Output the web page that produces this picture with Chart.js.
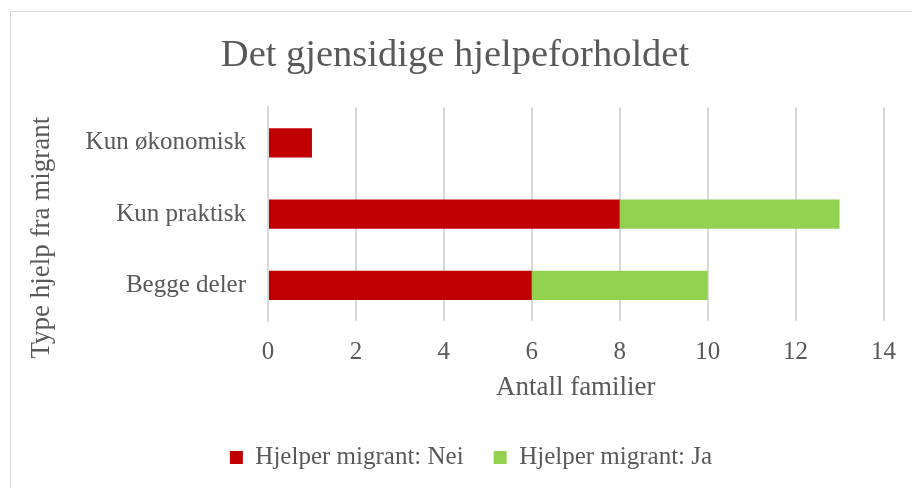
<!DOCTYPE html>
<html>
<head>
<meta charset="utf-8">
<script src="https://cdn.jsdelivr.net/npm/chart.js@4"></script>
<style>
  html, body { margin: 0; padding: 0; background: #fff; }
  #wrap { position: relative; width: 912px; height: 488px; overflow: hidden; }
  #frame { position: absolute; left: 10px; top: 11px; width: 1000px; height: 1000px; border: 1px solid #d9d9d9; box-sizing: border-box; }
  #chartBox { position: absolute; left: 0; top: 0; width: 912px; height: 488px; }
</style>
</head>
<body>
<div id="wrap">
  <div id="frame"></div>
  <div id="chartBox"><canvas id="chart"></canvas></div>
</div>
<script>
// data
const categories = ['Kun økonomisk', 'Kun praktisk', 'Begge deler'];
const seriesNei = [1, 8, 6];
const seriesJa = [0, 5, 4];
const xTicks = [0, 2, 4, 6, 8, 10, 12, 14];

const textColor = '#595959';
const gridColor = '#d9d9d9';
const serif = "'Liberation Serif', 'DejaVu Serif', serif";

// legenden står litt til høyre for midten i originalen
const legendShift = {
    id: 'legendShift',
    afterLayout(chart) {
        chart.legend.left += 16;
        chart.legend.right += 16;
    }
};

const ctx = document.getElementById('chart').getContext('2d');
new Chart(ctx, {
    type: 'bar',
    data: {
        labels: categories,
        datasets: [
            { label: 'Hjelper migrant: Nei', data: seriesNei, backgroundColor: '#C00000' },
            { label: 'Hjelper migrant: Ja', data: seriesJa, backgroundColor: '#92D050' }
        ]
    },
    plugins: [legendShift],
    options: {
        indexAxis: 'y',
        responsive: true,
        maintainAspectRatio: false,
        animation: false,
        barPercentage: 0.41,
        categoryPercentage: 1,
        layout: { padding: { left: 26, right: 28, top: 24, bottom: 8 } },
        plugins: {
            title: {
                display: true,
                text: 'Det gjensidige hjelpeforholdet',
                color: textColor,
                font: { family: serif, size: 38.5, weight: 'normal' },
                padding: { top: 9, bottom: 28 }
            },
            legend: {
                position: 'bottom',
                labels: {
                    color: textColor,
                    font: { family: serif, size: 25 },
                    boxWidth: 13,
                    boxHeight: 13,
                    padding: 30
                }
            },
            tooltip: { enabled: false }
        },
        scales: {
            x: {
                stacked: true,
                min: 0,
                max: 14,
                afterBuildTicks: s => { s.ticks = xTicks.map(v => ({ value: v })); },
                afterFit: s => { s.height = 94; },
                grid: { color: gridColor, lineWidth: 2, drawTicks: false },
                border: { display: false },
                ticks: { color: textColor, font: { family: serif, size: 25 }, padding: 16 },
                title: {
                    display: true,
                    text: 'Antall familier',
                    color: textColor,
                    font: { family: serif, size: 27 },
                    padding: { top: 0, bottom: 11 }
                }
            },
            y: {
                stacked: true,
                afterFit: s => { s.width = 242; },
                grid: { display: false, drawTicks: false },
                border: { display: true, color: gridColor, width: 2 },
                ticks: { color: textColor, font: { family: serif, size: 25 }, padding: 22 },
                title: {
                    display: true,
                    text: 'Type hjelp fra migrant       ',
                    color: textColor,
                    font: { family: serif, size: 27 },
                    padding: { top: 0, bottom: 22 }
                }
            }
        }
    }
});
</script>
</body>
</html>
